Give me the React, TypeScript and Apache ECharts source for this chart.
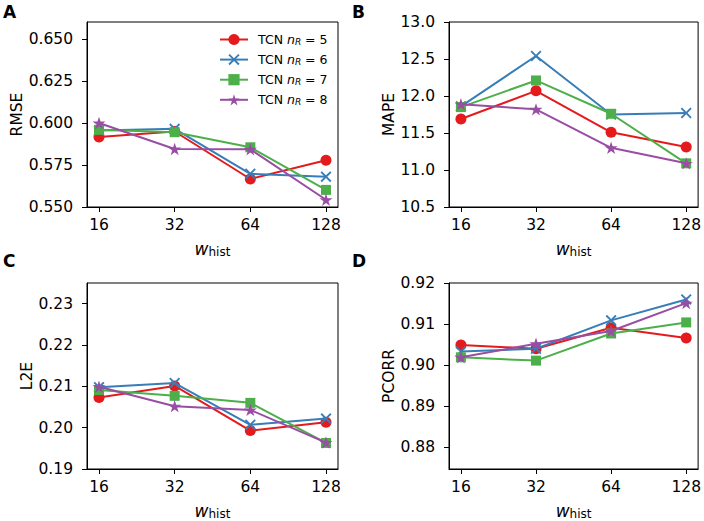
import React, { useEffect, useRef } from 'react';
import * as echarts from 'echarts';

// ---- data ----
const wHist = ['16', '32', '64', '128'];
const nR = [5, 6, 7, 8];
const colors = ['#e41a1c', '#377eb8', '#4daf4a', '#984ea3'];

const rmse5 = [0.5917, 0.5950, 0.5667, 0.5779];
const rmse6 = [0.5956, 0.5966, 0.5698, 0.5681];
const rmse7 = [0.5960, 0.5946, 0.5856, 0.5602];
const rmse8 = [0.6001, 0.5846, 0.5844, 0.5543];

const mape5 = [11.69, 12.07, 11.51, 11.31];
const mape6 = [11.86, 12.54, 11.75, 11.77];
const mape7 = [11.85, 12.21, 11.76, 11.09];
const mape8 = [11.89, 11.82, 11.30, 11.09];

const l2e5 = [0.2073, 0.2101, 0.1993, 0.2013];
const l2e6 = [0.2098, 0.2108, 0.2007, 0.2022];
const l2e7 = [0.2091, 0.2077, 0.2060, 0.1963];
const l2e8 = [0.2099, 0.2052, 0.2043, 0.1964];

const pcorr5 = [0.9049, 0.9040, 0.9091, 0.9066];
const pcorr6 = [0.9033, 0.9040, 0.9109, 0.9160];
const pcorr7 = [0.9019, 0.9011, 0.9077, 0.9104];
const pcorr8 = [0.9019, 0.9052, 0.9083, 0.9151];

const rmseTicks = [0.55, 0.575, 0.6, 0.625, 0.65];
const mapeTicks = [10.5, 11.0, 11.5, 12.0, 12.5, 13.0];
const l2eTicks = [0.19, 0.2, 0.21, 0.22, 0.23];
const pcorrTicks = [0.88, 0.89, 0.9, 0.91, 0.92];

const panelLetters = ['A', 'B', 'C', 'D'];

// ---- layout / style ----
const FONT = 'DejaVu Sans';
const TICK_FS = 15.5;

const XPATH =
  'path://M12,0 L50,38 L88,0 L100,12 L62,50 L100,88 L88,100 L50,62 L12,100 L0,88 L38,50 L0,12 Z';
const STARPATH =
  'path://M50,0 L61.17,34.63 L97.55,34.55 L68.07,55.87 L79.39,90.45 L50,69 L20.61,90.45 L31.93,55.87 L2.45,34.55 L38.83,34.63 Z';
const symbols = ['circle', XPATH, 'rect', STARPATH];
const symbolSizes = [11, 11, 10, 13];

const panels = [
  { label: 'RMSE', series: [rmse5, rmse6, rmse7, rmse8], ticks: rmseTicks, min: 0.55, max: 0.6603, digits: 3, nameGap: 56,
    grid: { left: 87, top: 22, width: 251, height: 185 } },
  { label: 'MAPE', series: [mape5, mape6, mape7, mape8], ticks: mapeTicks, min: 10.5, max: 13.0, digits: 1, nameGap: 45,
    grid: { left: 449, top: 22, width: 250, height: 185 } },
  { label: 'L2E', series: [l2e5, l2e6, l2e7, l2e8], ticks: l2eTicks, min: 0.19, max: 0.235, digits: 2, nameGap: 45,
    grid: { left: 87, top: 283, width: 251, height: 186 } },
  { label: 'PCORR', series: [pcorr5, pcorr6, pcorr7, pcorr8], ticks: pcorrTicks, min: 0.8747, max: 0.92, digits: 2, nameGap: 45,
    grid: { left: 449, top: 283, width: 250, height: 186 } },
];

const letterPos = [
  { left: 3, top: 3 },
  { left: 352, top: 3 },
  { left: 3, top: 252 },
  { left: 352, top: 252 },
];

const legendNames = nR.map((n) => `TCN n_R = ${n}`);
const xIdx = wHist.map((_, i) => i);
const PADX = 0.1586;

function buildOption() {
  const grids = panels.map((p) => ({ ...p.grid, show: true, borderColor: '#000', borderWidth: 1, backgroundColor: 'transparent' }));
  const xAxes = panels.map((p, gi) => ({
    type: 'value',
    gridIndex: gi,
    min: -PADX,
    max: wHist.length - 1 + PADX,
    splitLine: { show: false },
    axisLine: { show: true, onZero: false, lineStyle: { color: '#000', width: 1 } },
    axisTick: { show: true, customValues: xIdx, length: 5, lineStyle: { color: '#000', width: 1 } },
    axisLabel: {
      show: true,
      customValues: xIdx,
      margin: 10,
      color: '#000',
      fontSize: TICK_FS,
      fontFamily: FONT,
      formatter: (v: number) => wHist[Math.round(v)],
    },
    name: '{w|w}{s|hist}',
    nameLocation: 'middle',
    nameGap: 32,
    nameTextStyle: {
      color: '#000',
      rich: {
        w: { fontSize: 17, fontStyle: 'italic', fontFamily: FONT, color: '#000' },
        s: { fontSize: 12, fontFamily: FONT, color: '#000', padding: [7, 0, 0, 0] },
      },
    },
  }));
  const yAxes = panels.map((p, gi) => ({
    type: 'value',
    gridIndex: gi,
    min: p.min,
    max: p.max,
    splitLine: { show: false },
    axisLine: { show: true, onZero: false, lineStyle: { color: '#000', width: 1 } },
    axisTick: { show: true, customValues: p.ticks, length: 5, lineStyle: { color: '#000', width: 1 } },
    axisLabel: {
      show: true,
      customValues: p.ticks,
      margin: 14,
      color: '#000',
      fontSize: TICK_FS,
      fontFamily: FONT,
      formatter: (v: number) => v.toFixed(p.digits),
    },
    name: p.label,
    nameLocation: 'middle',
    nameGap: p.nameGap,
    nameTextStyle: { color: '#000', fontSize: TICK_FS, fontFamily: FONT },
  }));
  const series: any[] = [];
  panels.forEach((p, gi) => {
    p.series.forEach((vals, si) => {
      series.push({
        type: 'line',
        name: legendNames[si],
        xAxisIndex: gi,
        yAxisIndex: gi,
        data: vals.map((v, i) => [xIdx[i], v]),
        symbol: symbols[si],
        symbolSize: symbolSizes[si],
        symbolKeepAspect: true,
        showAllSymbol: true,
        color: colors[si],
        lineStyle: { color: colors[si], width: 2 },
        itemStyle: { color: colors[si], borderWidth: 0 },
        emphasis: { disabled: true },
        z: 2 + si,
      });
    });
  });
  return {
    animation: false,
    backgroundColor: '#fff',
    grid: grids,
    xAxis: xAxes,
    yAxis: yAxes,
    series,
    legend: {
      data: legendNames,
      orient: 'vertical',
      left: 214,
      top: 28,
      itemWidth: 28,
      itemHeight: 14,
      itemGap: 6.6,
      selectedMode: false,
      formatter: (name: string) => {
        const i = legendNames.indexOf(name);
        return `TCN {i|n}{s|R} = ${nR[i]}`;
      },
      textStyle: {
        color: '#000',
        fontSize: 12.5,
        fontFamily: FONT,
        padding: [0, 0, 0, 5],
        rich: {
          i: { fontSize: 12.5, fontStyle: 'italic', fontFamily: FONT, color: '#000' },
          s: { fontSize: 9, fontStyle: 'italic', fontFamily: FONT, color: '#000', padding: [5, 0, 0, 0] },
        },
      },
    },
    graphic: panelLetters.map((t, i) => ({
      type: 'text',
      left: letterPos[i].left,
      top: letterPos[i].top,
      style: { text: t, fontSize: 17, fontWeight: 'bold', fontFamily: FONT, fill: '#000' },
    })),
  };
}

export default function App() {
  const ref = useRef<HTMLDivElement>(null);
  useEffect(() => {
    if (!ref.current) return;
    const chart = echarts.init(ref.current, null, { renderer: 'svg' });
    chart.setOption(buildOption() as any);
    return () => chart.dispose();
  }, []);
  return (
    <div
      ref={ref}
      style={{ position: 'fixed', left: 0, top: 0, width: 704, height: 521, background: '#fff' }}
    />
  );
}
